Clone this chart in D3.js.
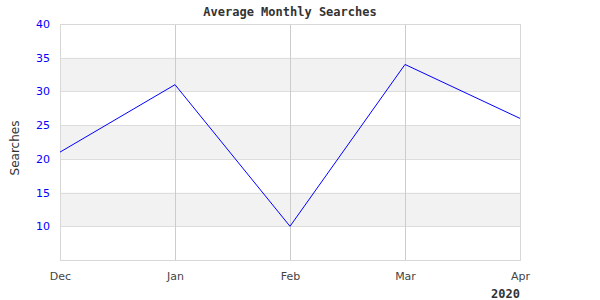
<!DOCTYPE html>
<html>
<head>
<meta charset="utf-8">
<script src="https://cdn.jsdelivr.net/npm/d3@7"></script>
<style>
  body { margin: 0; background: #fff; }
  #chart { width: 600px; height: 300px; }
  .title { font-family: "DejaVu Sans Mono", monospace; font-weight: bold; font-size: 12px; fill: #333; }
  .tick text { font-family: "DejaVu Sans", sans-serif; font-size: 11px; }
</style>
</head>
<body>
<div id="chart"></div>
<script>
// chart data
var months = ["Dec", "Jan", "Feb", "Mar", "Apr"];
var searches = [21, 31, 10, 34, 26];
var yTicks = [10, 15, 20, 25, 30, 35, 40];
var bands = [[10, 15], [20, 25], [30, 35]];

var margin = {top: 24, right: 80, bottom: 40, left: 60};
var width = 600 - margin.left - margin.right;
var height = 300 - margin.top - margin.bottom;

var svg = d3.select("#chart").append("svg")
    .attr("width", 600)
    .attr("height", 300);

var chart = svg.append("g")
    .attr("transform", `translate(${margin.left},${margin.top})`);

var x = d3.scalePoint()
    .domain(months)
    .range([0, width]);

var y = d3.scaleLinear()
    .domain([5, 40])
    .range([height, 0]);

// alternating bands
chart.selectAll(".band")
    .data(bands)
    .enter().append("rect")
    .attr("class", "band")
    .attr("x", 0)
    .attr("width", width)
    .attr("y", function (d) { return y(d[1]); })
    .attr("height", function (d) { return y(d[0]) - y(d[1]); })
    .attr("fill", "#f2f2f2");

// horizontal grid
var yAxis = d3.axisLeft(y)
    .tickValues(yTicks)
    .tickSize(-width)
    .tickPadding(10);

var gy = chart.append("g").call(yAxis);
gy.select(".domain").remove();
gy.selectAll(".tick line").attr("stroke", "#dddddd").attr("shape-rendering", "crispEdges");
gy.selectAll(".tick text").attr("fill", "#0000ff");

// vertical grid
var xAxis = d3.axisBottom(x)
    .tickSize(-height)
    .tickPadding(12);

var gx = chart.append("g")
    .attr("transform", `translate(0,${height})`)
    .call(xAxis);
gx.select(".domain").remove();
gx.selectAll(".tick line").attr("stroke", "#cccccc").attr("shape-rendering", "crispEdges");
gx.selectAll(".tick text").attr("fill", "#444");

// plot frame
chart.append("rect")
    .attr("x", 0)
    .attr("y", 0)
    .attr("width", width)
    .attr("height", height)
    .attr("fill", "none")
    .attr("stroke", "#d8d8d8")
    .attr("shape-rendering", "crispEdges");

// the line
var line = d3.line()
    .x(function (d, i) { return x(months[i]); })
    .y(function (d) { return y(d); });

chart.append("path")
    .datum(searches)
    .attr("d", line)
    .attr("fill", "none")
    .attr("stroke", "#0000ff")
    .attr("stroke-width", 1);

// titles
svg.append("text")
    .attr("class", "title")
    .attr("x", margin.left + width / 2)
    .attr("y", 16)
    .attr("text-anchor", "middle")
    .text("Average Monthly Searches");

svg.append("text")
    .attr("transform", `translate(19,${margin.top + height / 2 + 6}) rotate(-90)`)
    .attr("text-anchor", "middle")
    .attr("font-family", "DejaVu Sans, sans-serif")
    .attr("font-size", 12)
    .attr("fill", "#333")
    .text("Searches");

svg.append("text")
    .attr("class", "title")
    .attr("x", 520)
    .attr("y", 298)
    .attr("text-anchor", "end")
    .text("2020");
</script>
</body>
</html>
